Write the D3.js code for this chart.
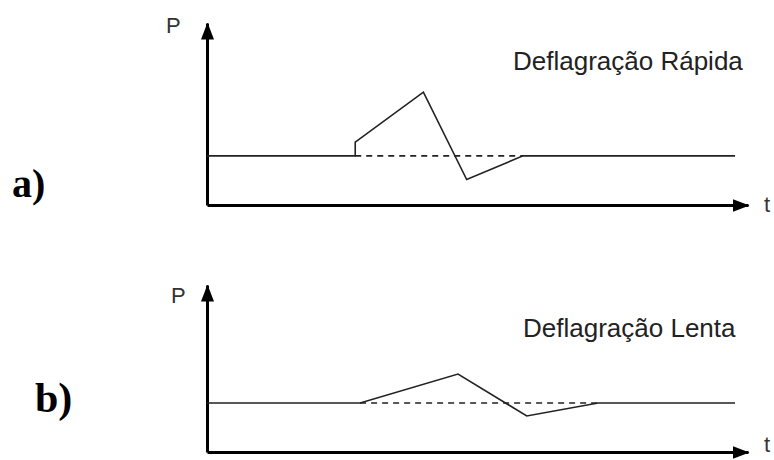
<!DOCTYPE html>
<html>
<head>
<meta charset="utf-8">
<script src="https://cdn.jsdelivr.net/npm/d3@7"></script>
<style>
  body { margin: 0; background: #fff; }
  svg { display: block; }
</style>
</head>
<body>
<svg width="774" height="460"></svg>
<script>
// pressure curves, t and P in arbitrary units 0..100
const rapidaCurve = [[0, 27], [27.4, 27], [27.4, 34.5], [40, 62], [48, 14], [58.4, 27], [97.6, 27]];
const rapidaDash = [[27.4, 27], [58.4, 27]];
const lentaCurve = [[0, 29.3], [28.3, 29.3], [46.4, 46.7], [59.1, 21.6], [72.3, 29.3], [97.6, 29.3]];
const lentaDash = [[28.3, 29.3], [72.3, 29.3]];
const panelLabels = ["a)", "b)"];
const titles = ["Deflagração Rápida", "Deflagração Lenta"];

const svg = d3.select("svg");

const defs = svg.append("defs");
defs.append("marker")
  .attr("id", "arrow")
  .attr("markerUnits", "userSpaceOnUse")
  .attr("markerWidth", 17).attr("markerHeight", 13)
  .attr("viewBox", "0 0 17 13")
  .attr("refX", 16).attr("refY", 6.5)
  .attr("orient", "auto")
  .append("path")
  .attr("d", "M0,0 L17,6.5 L0,13 Z")
  .attr("fill", "#000");

const panels = [
  { curve: rapidaCurve, dash: rapidaDash, top: 23, bottom: 205, label: [12, 197, 40], title: [513, 70], p: [166, 33], t: 212 },
  { curve: lentaCurve, dash: lentaDash, top: 285, bottom: 452, label: [35, 412, 42], title: [523, 337], p: [171, 303], t: 452 }
];

panels.forEach((pn, i) => {
  const x = d3.scaleLinear().domain([0, 100]).range([207, 748]);
  const y = d3.scaleLinear().domain([0, 100]).range([pn.bottom, pn.top]);
  const g = svg.append("g");

  const xAxis = g.append("g")
    .attr("transform", "translate(0," + pn.bottom + ")")
    .call(d3.axisBottom(x).ticks(0).tickSizeOuter(0));
  const yAxis = g.append("g")
    .attr("transform", "translate(207,0)")
    .call(d3.axisLeft(y).ticks(0).tickSizeOuter(0));
  [xAxis, yAxis].forEach(a => {
    a.select(".domain")
      .attr("stroke", "#000")
      .attr("stroke-width", 3)
      .attr("marker-end", "url(#arrow)");
  });

  const line = d3.line().x(d => x(d[0])).y(d => y(d[1]));

  g.append("path")
    .attr("d", line(pn.dash))
    .attr("fill", "none")
    .attr("stroke", "#222")
    .attr("stroke-width", 1.6)
    .attr("stroke-dasharray", "6,5");

  g.append("path")
    .attr("d", line(pn.curve))
    .attr("fill", "none")
    .attr("stroke", "#222")
    .attr("stroke-width", 1.6);

  g.append("text")
    .attr("x", pn.title[0]).attr("y", pn.title[1])
    .attr("font-family", "Liberation Sans, Arial, sans-serif")
    .attr("font-size", 26)
    .attr("fill", "#222")
    .text(titles[i]);

  g.append("text")
    .attr("x", pn.p[0]).attr("y", pn.p[1])
    .attr("font-family", "Liberation Sans, Arial, sans-serif")
    .attr("font-size", 22)
    .attr("fill", "#333")
    .text("P");

  g.append("text")
    .attr("x", 764).attr("y", pn.t)
    .attr("font-family", "Liberation Sans, Arial, sans-serif")
    .attr("font-size", 22)
    .attr("fill", "#333")
    .text("t");

  g.append("text")
    .attr("x", pn.label[0]).attr("y", pn.label[1])
    .attr("font-family", "Liberation Serif, Times New Roman, serif")
    .attr("font-weight", "bold")
    .attr("font-size", pn.label[2])
    .attr("fill", "#000")
    .text(panelLabels[i]);
});
</script>
</body>
</html>
